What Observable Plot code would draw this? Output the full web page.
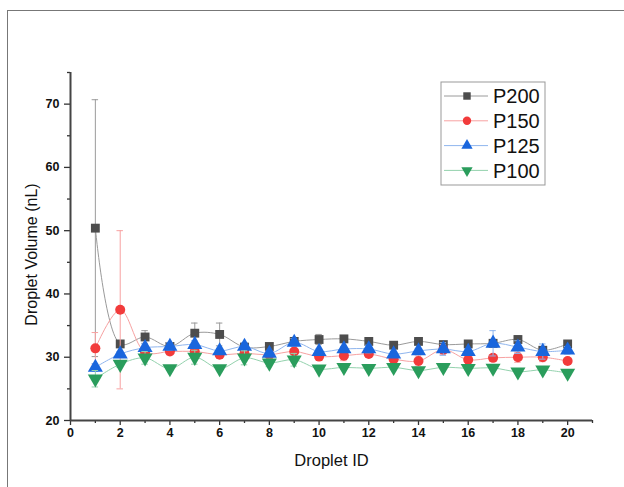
<!DOCTYPE html>
<html>
<head>
<meta charset="utf-8">
<script src="https://cdn.jsdelivr.net/npm/d3@7"></script>
<script src="https://cdn.jsdelivr.net/npm/@observablehq/plot@0.6"></script>
<style>
  html, body { margin: 0; padding: 0; background: #fff; overflow: hidden; }
  #wrap { position: relative; width: 624px; height: 487px; overflow: hidden; background: #fff; }
  #frame { position: absolute; left: 7px; top: 10px; width: 700px; height: 600px; border: 1.5px solid #777; box-sizing: border-box; }
  #chart { position: absolute; left: 0; top: 0; }
  #legend { position: absolute; left: 0; top: 0; }
</style>
</head>
<body>
<div id="wrap"><div id="frame"></div><div id="chart"></div><svg id="legend" width="624" height="487"></svg></div>
<script>
const ids = [1,2,3,4,5,6,7,8,9,10,11,12,13,14,15,16,17,18,19,20];
const p200 = [50.4,32.1,33.2,31.7,33.8,33.6,31.6,31.7,32.5,32.8,32.9,32.5,31.9,32.5,32.0,32.1,32.2,32.8,31.1,32.1];
const p200Err = [20.3,0.3,1.0,0.3,1.6,1.8,0.5,0.3,0.4,0.8,0.4,0.3,0.3,0.3,0.3,0.3,0.3,0.6,0.4,0.3];
const p150 = [31.4,37.5,30.8,30.9,30.9,30.4,30.6,30.4,30.9,30.1,30.25,30.5,29.7,29.4,31.2,29.6,29.9,30.0,30.0,29.4];
const p150Err = [2.5,12.5,0.5,0.5,0.6,0.4,0.5,0.4,0.4,0.4,0.8,0.5,0.8,0.8,0.8,0.4,0.5,0.8,0.7,0.4];
const p125 = [28.4,30.5,31.5,31.7,32.0,31.0,31.7,30.6,32.35,30.9,31.3,31.3,30.5,31.0,31.3,30.9,32.2,31.6,30.9,31.1];
const p125Err = [0.6,0.4,0.6,0.6,0.6,0.4,0.6,0.4,0.6,0.4,0.4,0.6,0.4,0.4,1.0,0.4,2.0,1.0,1.2,0.6];
const p100 = [26.6,28.9,29.9,28.2,30.0,28.2,29.9,29.1,29.6,28.15,28.4,28.25,28.4,27.9,28.4,28.25,28.3,27.7,28.0,27.5];
const p100Err = [1.3,0.5,1.0,0.3,1.1,0.3,1.1,0.6,1.0,0.3,0.3,0.3,0.3,0.3,0.3,0.3,0.3,0.3,0.3,0.3];

const seriesNames = ["P200","P150","P125","P100"];
const xMajorTicks = [0,2,4,6,8,10,12,14,16,18,20];
const xMinorTicks = [1,3,5,7,9,11,13,15,17,19,21];
const yMajorTicks = [20,30,40,50,60,70];
const yMinorTicks = [25,35,45,55,65,75];

const triangleDown = {
  draw(ctx, size) {
    const y = -Math.sqrt(size / (3 * Math.sqrt(3)));
    ctx.moveTo(0, -y * 2);
    ctx.lineTo(-Math.sqrt(3) * y, y);
    ctx.lineTo(Math.sqrt(3) * y, y);
    ctx.closePath();
  }
};

const styles = [
  {name: seriesNames[0], vals: p200, err: p200Err, marker: "#4d4d4d", line: "#9a9a9a", symbol: "square", r: 5},
  {name: seriesNames[1], vals: p150, err: p150Err, marker: "#f23b3b", line: "#f7a1a1", symbol: "circle", r: 5},
  {name: seriesNames[2], vals: p125, err: p125Err, marker: "#1a66dd", line: "#8fb5ee", symbol: "triangle", r: 5.6},
  {name: seriesNames[3], vals: p100, err: p100Err, marker: "#2a9d5c", line: "#93d2ad", symbol: triangleDown, r: 5.6}
];

const marks = [];
for (const s of styles) {
  const data = ids.map((id, i) => ({x: id, y: s.vals[i], e: s.err[i]}));
  marks.push(Plot.line(data, {x: "x", y: "y", curve: "catmull-rom", stroke: s.line, strokeWidth: 1}));
  marks.push(Plot.ruleX(data, {x: "x", y1: d => d.y - d.e, y2: d => d.y + d.e, stroke: s.line, strokeWidth: 1}));
  marks.push(Plot.ruleY(data, {y: d => d.y + d.e, x1: d => d.x - 0.13, x2: d => d.x + 0.13, stroke: s.line, strokeWidth: 1}));
  marks.push(Plot.ruleY(data, {y: d => d.y - d.e, x1: d => d.x - 0.13, x2: d => d.x + 0.13, stroke: s.line, strokeWidth: 1}));
  marks.push(Plot.dot(data, {x: "x", y: "y", symbol: () => s.symbol, r: s.r, fill: s.marker, stroke: "none"}));
}

const chart = Plot.plot({
  width: 624,
  height: 487,
  marginLeft: 70,
  marginRight: 32,
  marginTop: 72,
  marginBottom: 67,
  style: {fontFamily: "'Liberation Sans', Arial, sans-serif", background: "transparent", overflow: "visible"},
  x: {domain: [0, 21]},
  y: {domain: [20, 75]},
  symbol: {type: "identity"},
  marks: [
    ...marks,
    Plot.axisX(xMajorTicks, {tickSize: 5, tickPadding: 3, fontSize: 12.5, fontWeight: "bold", fill: "#111", stroke: "#333", strokeWidth: 1.3, label: null}),
    Plot.axisX(xMinorTicks, {tickSize: 3, tickFormat: () => "", stroke: "#333", strokeWidth: 1.3, label: null}),
    Plot.axisY(yMajorTicks, {tickSize: 6, tickPadding: 5, fontSize: 12.5, fontWeight: "bold", fill: "#111", stroke: "#333", strokeWidth: 1.3, label: null}),
    Plot.axisY(yMinorTicks, {tickSize: 3, tickFormat: () => "", stroke: "#333", strokeWidth: 1.3, label: null}),
    Plot.ruleY([20], {stroke: "#444", strokeWidth: 2}),
    Plot.ruleX([0], {stroke: "#444", strokeWidth: 2}),
    Plot.text(["Droplet ID"], {frameAnchor: "bottom", dy: 45, fontSize: 16.5, fill: "#111", text: d => d}),
    Plot.text(["Droplet Volume (nL)"], {frameAnchor: "left", dx: -39, dy: 8, rotate: -90, textAnchor: "middle", fontSize: 16, fill: "#111", text: d => d})
  ]
});
document.getElementById("chart").appendChild(chart);

// Legend
const lg = d3.select("#legend");
const lx = 441, ly = 82, lw = 104, lh = 103;
lg.append("rect").attr("x", lx).attr("y", ly).attr("width", lw).attr("height", lh)
  .attr("fill", "#fff").attr("stroke", "#999").attr("stroke-width", 1);
const symMap = {square: d3.symbolSquare, circle: d3.symbolCircle, triangle: d3.symbolTriangle};
styles.forEach((s, i) => {
  const cy = 96 + i * 24.8;
  lg.append("line").attr("x1", lx + 3).attr("x2", lx + 47).attr("y1", cy).attr("y2", cy)
    .attr("stroke", s.line).attr("stroke-width", 1);
  const type = typeof s.symbol === "string" ? symMap[s.symbol] : s.symbol;
  lg.append("path").attr("d", d3.symbol(type, Math.PI * 4.2 * 4.2)())
    .attr("transform", `translate(${lx + 26},${cy})`).attr("fill", s.marker);
  lg.append("text").attr("x", lx + 52).attr("y", cy).attr("dy", "0.36em")
    .attr("font-family", "'Liberation Sans', Arial, sans-serif").attr("font-size", 20).attr("fill", "#111")
    .text(s.name);
});
</script>
</body>
</html>
